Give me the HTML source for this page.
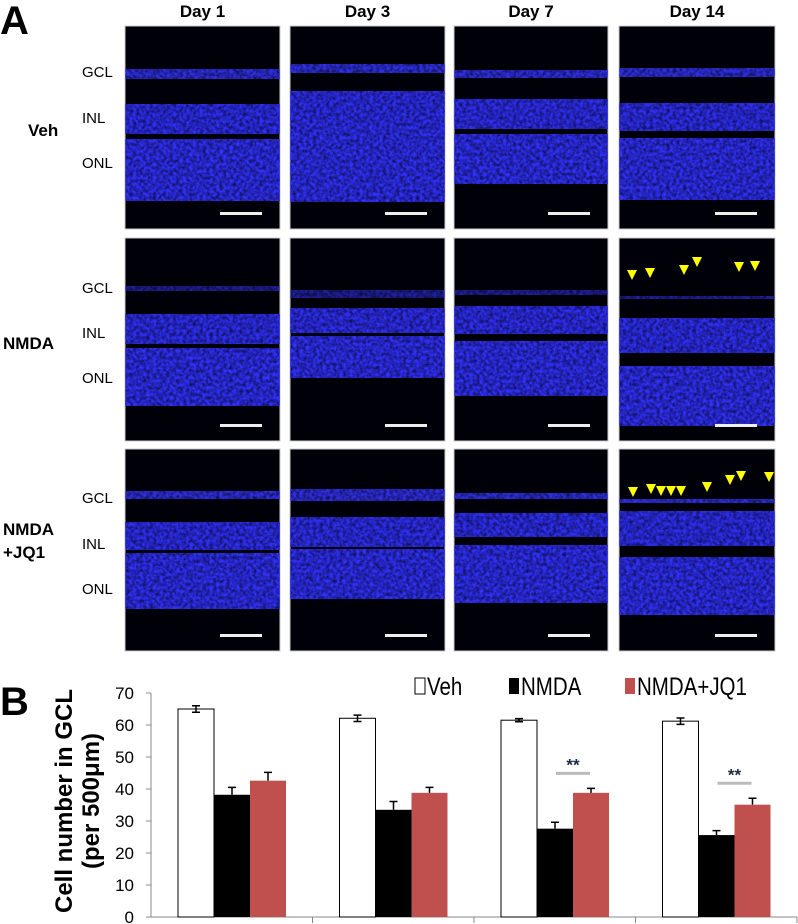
<!DOCTYPE html>
<html><head><meta charset="utf-8">
<style>
body{margin:0;background:#fff;width:798px;height:924px;overflow:hidden;font-family:"Liberation Sans",Arial,sans-serif}
svg{position:absolute;left:0;top:0}
</style></head>
<body>
<svg id="fig" width="798" height="924" viewBox="0 0 798 924">
<defs>
<filter id="tex" x="0" y="0" width="100%" height="100%">
<feTurbulence type="fractalNoise" baseFrequency="0.3" numOctaves="2" seed="3" result="n"/>
<feColorMatrix in="n" type="matrix" values="0 0 0 0 0  0 0 0 0 0  0 0 0 0 0  0 0 0 -1.2 1.35" result="m"/>
<feComposite in="SourceGraphic" in2="m" operator="in"/>
</filter>
</defs>
<text x="0" y="34" font-size="40" font-weight="bold">A</text>
<text x="0" y="715" font-size="40" font-weight="bold">B</text>
<g id="images"></g>
<g id="chart"></g>
</svg>
<script>
const NS='http://www.w3.org/2000/svg';
function mk(tag,attrs,parent,txt){const e=document.createElementNS(NS,tag);for(const k in attrs)e.setAttribute(k,attrs[k]);if(txt!==undefined)e.textContent=txt;parent.appendChild(e);return e;}
const img=document.getElementById('images');
const colX=[125,290,454,619], colW=[155,155,154,156];
const rowY=[26,238,449], rowH=[203,203,202];
const days=['Day 1','Day 3','Day 7','Day 14'];
days.forEach((d,i)=>{const t=mk('text',{x:colX[i]+colW[i]/2,y:17,'font-size':17,'font-weight':'bold','text-anchor':'middle'},img,d);
});
const rowLbl=[[['Veh',136]],[['NMDA',349]],[['NMDA',535],['+JQ1',558]]];
rowLbl.forEach((r,i)=>r.forEach(([s,y])=>{const t=mk('text',{x:i==0?28:3,y:y,'font-size':17,'font-weight':'bold'},img,s);
}));
const layerY=[[77,123,168],[293,338,383],[503,549,594]];
layerY.forEach((r,i)=>['GCL','INL','ONL'].forEach((s,j)=>{const t=mk('text',{x:82,y:r[j],'font-size':15},img,s);
}));
const bands=[
 [[43,10,78,30,113,62],[38,9,65,32,96,80],[44,8,73,30,108,50],[42,9,77,28,112,62]],
 [[48,5,76,30,110,58],[52,8,70,25,98,42],[52,5,68,28,103,55],[58,3,80,35,128,60]],
 [[42,8,73,28,104,56],[40,12,68,30,100,50],[44,6,64,24,96,58],[50,4,62,35,108,58]]];
for(let r=0;r<3;r++)for(let c=0;c<4;c++){
 const x=colX[c],y=rowY[r],w=colW[c],h=rowH[r],b=bands[r][c];
 const g=mk('g',{},img);
 mk('rect',{x:x,y:y,width:w,height:h,fill:'#000008',stroke:'#ccc','stroke-width':1},g);
 const tg=mk('g',{filter:'url(#tex)'},g);
 mk('rect',{x:x,y:y+b[0],width:w,height:b[1],fill:'#3535ff',opacity:r==1?0.6:0.9},tg);
 mk('rect',{x:x,y:y+b[2],width:w,height:b[3],fill:'#2f2ff5'},tg);
 mk('rect',{x:x,y:y+b[4],width:w,height:b[5],fill:'#3030f8'},tg);
 const sb=mk('rect',{x:x+w-60,y:y+h-17,width:42,height:3,fill:'#eee'},g);
 
}
const arrows=[[[632,276],[650,274],[684,271],[697,263],[739,268],[755,267]],[[633,493],[651,490],[661,492],[671,492],[681,492],[707,488],[730,481],[741,477],[769,478]]];
arrows.forEach(a=>a.forEach(([ax,ay])=>{const p=mk('polygon',{points:`${ax-5},${ay-6} ${ax+5},${ay-6} ${ax},${ay+4}`,fill:'#ffff00'},img);
}));

// ---- chart data ----
const categories=['Day 1','Day 3','Day 7','Day 14'];
const seriesNames=['Veh','NMDA','NMDA+JQ1'];
const vehVals=[65,62.1,61.5,61.2];
const nmdaVals=[38.2,33.5,27.6,25.6];
const jq1Vals=[42.6,38.8,38.8,35.1];
const vehErr=[1.0,1.0,0.5,1.0];
const nmdaErr=[2.3,2.6,2.0,1.4];
const jq1Err=[2.6,1.7,1.4,2.0];
const yTicks=[0,10,20,30,40,50,60,70];
const sigFlags=[false,false,true,true];

const ch=document.getElementById('chart');
const x0=151,xEnd=797,y0=917,yTop=693,yMax=70;
const yS=v=>y0-(v/yMax)*(y0-yTop);
const gw=(xEnd-x0)/categories.length;
const bw=36;
const bx=(i,s)=>x0+i*gw+27+s*bw;
let ax=mk('line',{x1:x0,y1:yTop,x2:x0,y2:y0,stroke:'#888','stroke-width':1},ch);
ax=mk('line',{x1:x0,y1:y0,x2:xEnd,y2:y0,stroke:'#888','stroke-width':1},ch);
yTicks.forEach(t=>{const y=yS(t);mk('line',{x1:x0-5,y1:y,x2:x0,y2:y,stroke:'#888'},ch);
 const l=mk('text',{x:x0-17,y:y+6,'font-size':17,'text-anchor':'end',fill:'#000'},ch,t);
 });
for(let i=1;i<=categories.length;i++){mk('line',{x1:x0+i*gw,y1:y0,x2:x0+i*gw,y2:y0+6,stroke:'#888'},ch);}
const yt=mk('text',{transform:'translate(72,801) rotate(-90)','font-size':24,'font-weight':'bold','text-anchor':'middle'},ch,'Cell number in GCL');

const yt2=mk('text',{transform:'translate(99,801) rotate(-90)','font-size':24,'font-weight':'bold','text-anchor':'middle'},ch,'(per 500μm)');

const series=[[vehVals,vehErr,'#fff'],[nmdaVals,nmdaErr,'#000'],[jq1Vals,jq1Err,'#c0504d']];
series.forEach(([vals,errs,col],s)=>vals.forEach((v,i)=>{
 const x=bx(i,s);
 const r=mk('rect',{x:x,y:yS(v),width:bw,height:y0-yS(v),fill:col,stroke:s==0?'#000':'none','stroke-width':1},ch);
 
 const cx=x+bw/2,yt=yS(v+errs[i]),yb=s==0?yS(v-errs[i]):yS(v);
 const e=mk('path',{d:`M${cx},${yt}V${yb}M${cx-4},${yt}H${cx+4}`+(s==0?`M${cx-4},${yb}H${cx+4}`:''),stroke:'#000','stroke-width':1.5,fill:'none'},ch);
 
}));
sigFlags.forEach((f,i)=>{if(!f)return;const ys=yS(jq1Vals[i]+jq1Err[i])-15;const cx=bx(i,1)+bw;
 const l=mk('line',{x1:cx-17,y1:ys,x2:cx+17,y2:ys,stroke:'#bbb','stroke-width':3},ch);
 const t=mk('text',{x:cx,y:ys-3,'font-size':17,'font-weight':'bold','text-anchor':'middle',fill:'#1f2a44'},ch,'**');});
const legX=[415,509,625];
seriesNames.forEach((n,s)=>{const g=mk('g',{},ch);
 mk('rect',{x:legX[s],y:678,width:10,height:16,fill:series[s][2],stroke:s==0?'#000':'none'},g);
 mk('text',{x:legX[s]+12,y:695,'font-size':25,transform:`translate(${legX[s]+12},0) scale(0.82,1) translate(${-(legX[s]+12)},0)`},g,n);});
</script>
</body></html>
